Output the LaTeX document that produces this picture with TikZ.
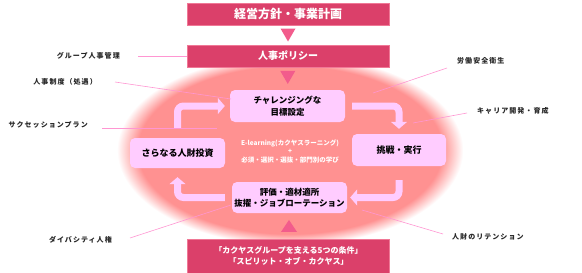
\documentclass[tikz,border=0pt]{standalone}
\usepackage{fontspec}
\setmainfont{Noto Sans CJK JP}
\usetikzlibrary{calc, arrows.meta}

\definecolor{kkdark}{RGB}{219,64,106}
\definecolor{kkedge}{RGB}{240,120,150}
\definecolor{kktri}{RGB}{242,92,140}
\definecolor{kklight}{RGB}{255,204,255}
\definecolor{kkline}{RGB}{255,150,210}
\pgfdeclareradialshading{kkglow}{\pgfpoint{0bp}{0bp}}{rgb(0bp)=(1,0.57,0.57); rgb(44bp)=(1,0.57,0.57); rgb(50bp)=(1,1,1)}

\begin{document}
\begin{tikzpicture}[x=1pt, y=-1pt,
  darkbox/.style={draw=kkedge, line width=0.6pt, fill=kkdark, text=white, inner sep=0pt, minimum width=202pt},
  lightbox/.style={fill=kklight, rounded corners=5pt, align=center, inner sep=0pt, font=\fontsize{8.5}{12}\selectfont\bfseries},
  cycarrow/.style={draw=kklight, line width=7pt, rounded corners=6pt, -{Triangle[width=16pt, length=7pt]}},
  sidelabel/.style={inner sep=1pt, text=black!85, font=\fontsize{7}{8}\selectfont\bfseries\addfontfeature{LetterSpace=15}},
  leader/.style={draw=kkline, line width=0.6pt}]
  \useasboundingbox (0,0) rectangle (582,273);
  % soft glow behind the cycle
  \begin{scope}
    \pgftransformshift{\pgfpointxy{290}{150}}
    \pgftransformxscale{3.45}
    \pgftransformyscale{1.9}
    \pgflowlevelsynccm
    \pgfuseshading{kkglow}
  \end{scope}

  % policy column
  \node[darkbox, minimum height=22pt, font=\fontsize{12}{14}\selectfont\bfseries] (mgmt) at (288,14) {経営方針・事業計画};
  \node[darkbox, minimum height=22pt, font=\fontsize{10}{12}\selectfont\bfseries] (policy) at (288,56) {人事ポリシー};
  \node[darkbox, minimum height=34pt, align=center, font=\fontsize{8}{10.5}\selectfont\bfseries] (spirit) at (288.5,256) {「カクヤスグループを支える5つの条件」\\「スピリット・オブ・カクヤス」};

  % cycle
  \node[lightbox, minimum width=115pt, minimum height=32pt] (goal) at (287.5,106) {チャレンジングな\\目標設定};
  \node[lightbox, minimum width=94pt, minimum height=32pt, font=\fontsize{9}{12}\selectfont\bfseries] (act) at (399,150) {挑戦・実行};
  \node[lightbox, minimum width=95pt, minimum height=30pt, font=\fontsize{9}{12}\selectfont\bfseries] (invest) at (177.5,153) {さらなる人財投資};
  \node[lightbox, minimum width=115pt, minimum height=31pt, font=\fontsize{8.5}{11}\selectfont\bfseries] (eval) at (289.5,197.5) {評価・適材適所\\抜擢・ジョブローテーション};
  \node[text=white, align=center, font=\fontsize{6.5}{8.5}\selectfont\bfseries] (elearn) at (290,151) {E-learning(カクヤスラーニング)\\+\\必須・選択・選抜・部門別の学び};

  \coordinate (t1) at ($(mgmt.south)!.5!(policy.north)$);
  \coordinate (t2) at ($(policy.south)!.45!(goal.north)$);
  \coordinate (t3) at ($(eval.south)!.5!(spirit.north)$);
  \fill[kktri] ([xshift=-7.5pt, yshift=6.5pt]t1) -- ([xshift=7.5pt, yshift=6.5pt]t1) -- ([yshift=-6.5pt]t1) -- cycle;
  \fill[kktri] ([xshift=-7.5pt, yshift=6.5pt]t2) -- ([xshift=7.5pt, yshift=6.5pt]t2) -- ([yshift=-6.5pt]t2) -- cycle;
  \fill[kktri] ([xshift=-8pt, yshift=-6pt]t3) -- ([xshift=8pt, yshift=-6pt]t3) -- ([yshift=6pt]t3) -- cycle;

  \draw[cycarrow] ([yshift=10pt]invest.north) |- ([xshift=-5pt]goal.west);
  \draw[cycarrow] ([xshift=7pt]goal.east) -| ([yshift=5pt]act.north);
  \draw[cycarrow] ([yshift=-14pt]act.south) |- ([xshift=3pt]eval.east);
  \draw[cycarrow] ([xshift=-7pt]eval.west) -| ([yshift=-9pt]invest.south);

  % side labels
  \node[sidelabel, anchor=east] (grp) at (121,56) {グループ人事管理};
  \node[sidelabel, anchor=east] (sys) at (98,82) {人事制度（処遇）};
  \node[sidelabel, anchor=east] (succ) at (89,125) {サクセッションプラン};
  \node[sidelabel, anchor=east] (div) at (113,240) {ダイバシティ人権};
  \node[sidelabel, anchor=west] (labor) at (456,61) {労働安全衛生};
  \node[sidelabel, anchor=west] (career) at (476,111) {キャリア開発・育成};
  \node[sidelabel, anchor=west] (ret) at (451,237) {人財のリテンション};

  \coordinate (sysEnd) at (231,99);
  \coordinate (succEnd) at (217,128);
  \coordinate (divEnd) at (231,205);
  \coordinate (laborEnd) at (373,93);
  \coordinate (careerEnd) at (413,123);
  \coordinate (retEnd) at (362,210);

  \draw[leader] ([xshift=17pt]grp.east) -- (policy.west);
  \draw[leader] ([xshift=17pt]sys.east) -- (sysEnd);
  \draw[leader] ([xshift=13pt, yshift=-3pt]succ.east) -- (succEnd);
  \draw[leader] ([xshift=17pt, yshift=2pt]div.east) -- (divEnd);
  \draw[leader] ([xshift=-9pt, yshift=-7pt]labor.west) -- (laborEnd);
  \draw[leader] ([xshift=-9pt, yshift=-2pt]career.west) -- (careerEnd);
  \draw[leader] ([xshift=-8pt, yshift=3pt]ret.west) -- (retEnd);
\end{tikzpicture}
\end{document}
